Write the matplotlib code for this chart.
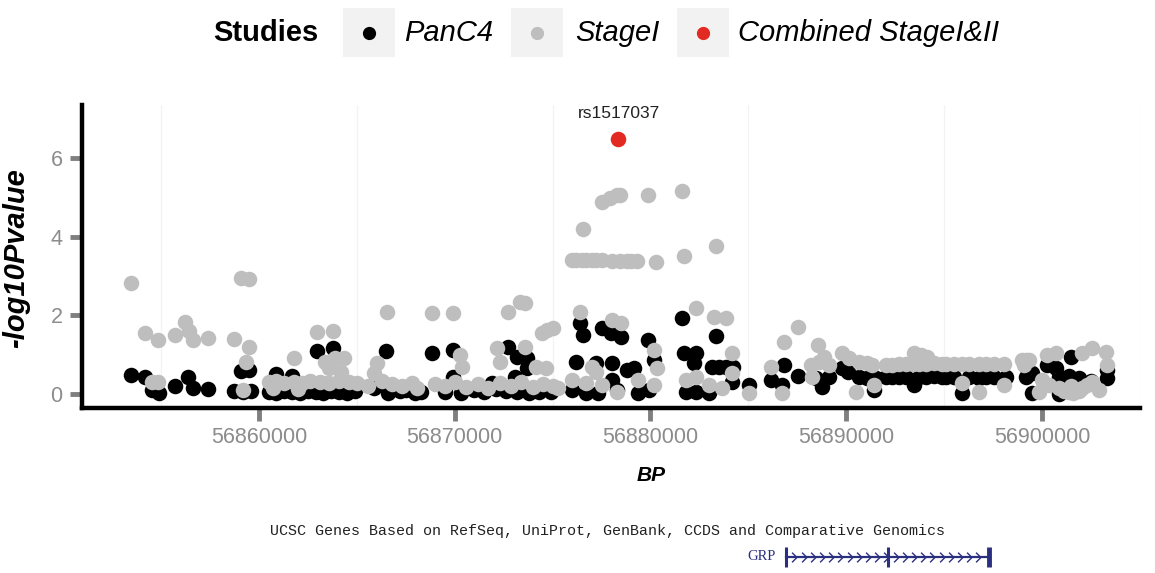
import matplotlib
matplotlib.use("Agg")
import matplotlib.pyplot as plt
import numpy as np
from matplotlib.path import Path
from matplotlib.patches import Rectangle
from matplotlib.lines import Line2D

# ---------------- data ----------------
BP_ORIGIN_KB = 56850.0  # positions below are kb offsets from 56,850,000

panc4_kb = [3.47, 4.18, 4.54, 4.90, 5.71, 6.38, 6.63, 7.40, 8.72, 9.08, 9.49, 9.59, 9.18,
            10.5, 10.9, 11.3, 11.7, 12.1, 12.5, 12.9, 13.3, 13.7, 14.1, 14.5, 14.9, 10.9, 11.7,
            12.96, 13.78, 13.4, 14.3,
            16.48, 15.9, 16.6, 17.2, 17.96, 17.5, 18.3,
            18.83, 19.90, 22.70, 23.16, 23.67, 19.90, 21.89, 23.1, 23.67, 19.5, 20.3, 21.0, 21.5,
            22.1, 22.6, 23.2, 23.8, 24.3, 24.9,
            26.38, 26.53, 27.50, 28.01, 28.52, 29.85, 31.63, 33.37, 31.73, 32.35, 33.16, 33.52,
            33.88, 34.23, 26.22, 27.24, 28.06, 28.78, 29.18, 30.20, 32.24, 29.95, 29.34, 28.27,
            28.06, 26.73, 27.30, 25.97, 31.84, 32.35, 33.01, 34.18,
            35.05, 36.17, 36.84, 36.73, 37.55, 38.47, 39.13, 38.78, 39.80, 40.10, 40.66, 41.07,
            41.53, 41.43, 42.04, 42.35,
            42.70, 43.06, 43.47, 43.72, 44.08, 44.49, 44.90, 45.10, 45.51, 45.92, 46.28, 46.80,
            47.14, 47.55, 48.16,
            49.18, 49.49, 49.49, 50.26, 50.71, 51.48, 50.87, 51.38, 51.89, 52.50, 53.32, 50.87, 53.32]
panc4_p = [0.48, 0.43, 0.10, 0.03, 0.20, 0.43, 0.15, 0.13, 0.08, 0.59, 0.61, 0.08, 0.05,
           0.05, 0.03, 0.08, 0.05, 0.03, 0.08, 0.05, 0.03, 0.08, 0.05, 0.03, 0.08, 0.50, 0.45,
           1.09, 1.17, 0.25, 0.20,
           1.09, 0.15, 0.03, 0.08, 0.03, 0.10, 0.05,
           1.04, 1.12, 1.20, 0.94, 0.92, 0.43, 0.28, 0.43, 0.66, 0.05, 0.03, 0.10, 0.05,
           0.13, 0.08, 0.05, 0.03, 0.05, 0.05,
           1.81, 1.50, 1.68, 1.55, 1.45, 1.37, 1.93, 1.48, 1.04, 1.04, 0.69, 0.69,
           0.69, 0.69, 0.81, 0.79, 0.79, 0.61, 0.66, 0.87, 0.79, 0.10, 0.03, 0.10,
           0.36, 0.03, 0.03, 0.10, 0.05, 0.05, 0.03, 0.31,
           0.23, 0.36, 0.74, 0.23, 0.46, 0.41, 0.43, 0.18, 0.66, 0.56, 0.43, 0.41,
           0.41, 0.10, 0.43, 0.43,
           0.43, 0.43, 0.23, 0.43, 0.43, 0.46, 0.43, 0.43, 0.43, 0.03, 0.43, 0.41,
           0.43, 0.43, 0.43,
           0.43, 0.53, 0.03, 0.74, 0.66, 0.94, 0.43, 0.46, 0.41, 0.33, 0.41, 0.00, 0.60]

stage1_kb = [3.47, 4.18, 4.85, 5.71, 6.22, 6.43, 6.63, 7.40, 8.72, 9.08, 9.49, 9.49, 9.34, 4.54, 4.85, 9.18,
             11.79, 12.96, 13.78, 14.34, 13.4, 13.6, 13.9, 14.2, 10.5, 10.9, 11.3, 11.8, 12.2, 12.6,
             13.1, 13.6, 14.1, 14.6, 15.0, 10.7, 12.0,
             16.53, 16.02, 15.87, 15.6, 16.3, 16.8, 17.3, 17.8, 18.1,
             18.83, 19.90, 22.70, 23.32, 23.57, 24.44, 24.74, 25.00, 20.26, 20.36, 22.14, 23.57,
             22.30, 24.18, 24.69, 19.0, 19.5, 20.0, 20.6, 21.2, 21.7, 22.3, 22.9, 23.4, 24.0,
             24.5, 25.0, 25.3,
             27.55, 27.91, 28.27, 28.42, 29.85, 31.63, 26.53, 25.97, 26.22, 26.48, 26.73, 26.99,
             27.24, 27.50, 28.06, 28.42, 28.78, 29.03, 29.29, 30.26, 31.73, 33.37, 26.38, 28.06,
             28.52, 32.35, 33.27, 33.88, 34.18, 30.20, 30.31, 26.99, 27.24, 30.20, 29.34, 28.27,
             27.50, 26.73, 25.97, 31.84, 32.35, 33.01, 33.67, 34.18,
             35.05, 36.17, 36.84, 36.73, 37.55, 38.57, 38.21, 38.62, 38.88, 39.13, 38.27, 39.80,
             40.15, 40.66, 41.07, 41.33, 42.04, 42.35, 40.51, 41.43,
             42.70, 43.06, 43.40, 43.47, 43.80, 44.10, 43.72, 44.08, 44.49, 44.90, 45.10, 45.51,
             45.92, 46.28, 46.79, 47.14, 47.55, 48.06, 45.92, 46.79, 48.06,
             48.98, 49.18, 49.34, 49.08, 49.85, 50.26, 50.71, 52.04, 52.55, 53.27, 53.32, 52.91,
             50.36, 50.87, 51.12, 51.38, 51.60, 51.89, 52.04, 52.30, 52.55, 51.50, 50.00]
stage1_p = [2.82, 1.55, 1.37, 1.50, 1.83, 1.60, 1.37, 1.42, 1.40, 2.95, 2.93, 1.20, 0.81, 0.31, 0.31, 0.10,
            0.92, 1.58, 1.60, 0.92, 0.81, 0.66, 0.92, 0.56, 0.30, 0.33, 0.28, 0.31, 0.28, 0.33,
            0.30, 0.28, 0.33, 0.30, 0.28, 0.15, 0.12,
            2.09, 0.79, 0.53, 0.20, 0.33, 0.25, 0.20, 0.28, 0.15,
            2.06, 2.06, 2.09, 2.34, 2.32, 1.55, 1.63, 1.68, 0.99, 0.69, 1.17, 1.20,
            0.81, 0.69, 0.66, 0.25, 0.20, 0.30, 0.18, 0.25, 0.15, 0.28, 0.20, 0.30, 0.18,
            0.25, 0.20, 0.15,
            4.89, 4.99, 5.06, 5.06, 5.06, 5.17, 4.20, 3.41, 3.41, 3.41, 3.41, 3.41,
            3.41, 3.41, 3.38, 3.38, 3.38, 3.38, 3.38, 3.36, 3.51, 3.77, 2.09, 1.88,
            1.81, 2.19, 1.96, 1.93, 1.04, 1.12, 0.66, 0.69, 0.56, 0.23, 0.36, 0.05,
            0.23, 0.28, 0.36, 0.36, 0.43, 0.23, 0.15, 0.53,
            0.03, 0.69, 1.32, 0.03, 1.70, 1.25, 0.74, 0.81, 0.94, 0.74, 0.43, 1.04,
            0.92, 0.81, 0.79, 0.74, 0.74, 0.74, 0.05, 0.23,
            0.76, 0.76, 0.76, 1.04, 0.99, 0.94, 0.76, 0.76, 0.79, 0.76, 0.76, 0.76,
            0.76, 0.76, 0.76, 0.76, 0.76, 0.76, 0.28, 0.05, 0.23,
            0.87, 0.87, 0.87, 0.74, 0.05, 0.99, 1.04, 1.04, 1.17, 1.07, 0.74, 0.10,
            0.23, 0.15, 0.08, 0.05, 0.03, 0.08, 0.15, 0.23, 0.31, 0.20, 0.36]

combined_kb = [28.32]
combined_p = [6.49]
combined_label = ["rs1517037"]

studies = ["PanC4", "StageI", "Combined StageI&II"]
study_colors = ["#000000", "#BEBEBE", "#E32A22"]

x_ticks_bp = [56860000, 56870000, 56880000, 56890000, 56900000]
x_minor_bp = [56855000, 56865000, 56875000, 56885000, 56895000, 56905000]
y_ticks = [0, 2, 4, 6]

gene_name = "GRP"
gene_start_bp = 56886900
gene_end_bp = 56897300
gene_exons_bp = [56886900, 56892150, 56897300]
track_title = "UCSC Genes Based on RefSeq, UniProt, GenBank, CCDS and Comparative Genomics"

# ---------------- figure ----------------
W, H = 1155, 573
fig = plt.figure(figsize=(W / 100, H / 100), dpi=100)
plt.rcParams["font.family"] = ["Liberation Sans", "DejaVu Sans"]

def fx(px):
    return px / W

def fy(py):
    return 1 - py / H

ax = fig.add_axes([fx(82), fy(408), (1140 - 82) / W, (408 - 105) / H])

to_bp = lambda kb: (np.asarray(kb) + BP_ORIGIN_KB) * 1000.0

ms = 125
ax.scatter(to_bp(panc4_kb), panc4_p, s=ms, color=study_colors[0], linewidths=0, zorder=3)
ax.scatter(to_bp(stage1_kb), stage1_p, s=ms, color=study_colors[1], linewidths=0, zorder=4)
ax.scatter(to_bp(combined_kb), combined_p, s=ms, color=study_colors[2], linewidths=0, zorder=5)
for kb, p, lab in zip(combined_kb, combined_p, combined_label):
    ax.annotate(lab, (to_bp([kb])[0], p), xytext=(1, 18), textcoords="offset points",
                ha="center", va="center", fontsize=12.5, color="#222222",
                fontstretch="condensed")

ax.set_xlim(56850970, 56904950)
ax.set_ylim(-0.36, 7.35)
ax.set_xticks(x_ticks_bp)
ax.set_xticklabels([str(v) for v in x_ticks_bp])
ax.set_xticks(x_minor_bp, minor=True)
ax.set_yticks(y_ticks)
ax.grid(False)
ax.grid(True, which="minor", axis="x", color="#F3F3F3", linewidth=0.9, zorder=0)
ax.tick_params(axis="both", which="major", length=9, width=3.5, color="#7F7F7F",
               labelcolor="#8C8C8C", labelsize=15.5)
ax.tick_params(axis="x", which="major", pad=5)
ax.tick_params(axis="y", which="major", pad=5)
ax.tick_params(axis="x", which="minor", length=0)
for s in ["top", "right"]:
    ax.spines[s].set_visible(False)
for s in ["left", "bottom"]:
    ax.spines[s].set_linewidth(3.2)
    ax.spines[s].set_color("black")
ax.set_xlabel("BP", fontsize=15, fontweight="bold", fontstyle="italic")
ax.xaxis.set_label_coords((651 - 82) / (1140 - 82), (408 - 466) / (408 - 105))
ax.set_ylabel("-log10Pvalue", fontsize=21, fontweight="bold", fontstyle="italic")
ax.yaxis.set_label_coords((30 - 82) / (1140 - 82), (408 - 258) / (408 - 105))

# ---------------- legend (top) ----------------
fig.text(fx(213), fy(33), "Studies", fontsize=21, fontweight="bold", ha="left", va="center")
key_left = [343, 511, 677]
label_left = [404, 575, 738]
for kl, ll, name, col in zip(key_left, label_left, studies, study_colors):
    fig.patches.append(Rectangle((fx(kl), fy(57)), 52 / W, 49 / H, transform=fig.transFigure,
                                 facecolor="#F2F2F2", edgecolor="none"))
    fig.lines.append(Line2D([fx(kl + 26)], [fy(33)], marker="o", markersize=8.5,
                            color=col, linestyle="none", transform=fig.transFigure))
    fig.text(fx(ll), fy(33), name, fontsize=21, fontstyle="italic", ha="left", va="center")

# ---------------- gene track ----------------
tr = fig.add_axes([fx(82), 0, (1140 - 82) / W, 60 / H])
tr.set_xlim(ax.get_xlim())
tr.set_ylim(60, 0)
tr.axis("off")
fig.text(fx(607), fy(531), track_title, fontsize=10.8, family=["Liberation Mono", "DejaVu Sans Mono"],
         ha="center", va="center", color="#222222")
navy = "#2B2F7F"
gy = 44
tr.plot([gene_start_bp, gene_end_bp], [gy, gy], color=navy, linewidth=1.6)
chev = Path([(-0.5, 1.0), (0.5, 0.0), (-0.5, -1.0)], [Path.MOVETO, Path.LINETO, Path.LINETO])
chev_x = np.arange(gene_start_bp + 450, gene_end_bp - 300, 470)
tr.plot(chev_x, [gy] * len(chev_x), linestyle="none", marker=chev, markersize=7,
        markerfacecolor="none", markeredgecolor=navy, markeredgewidth=1.0)
for i, ex in enumerate(gene_exons_bp):
    tr.plot([ex, ex], [gy - 10, gy + 10], color=navy, linewidth=2.2 if i != 2 else 3.5,
            solid_capstyle="butt")
tr.text(gene_start_bp - 500, gy, gene_name, ha="right", va="center", fontsize=10.5,
        family=["Liberation Serif", "DejaVu Serif"], color=navy)

fig.savefig("out.png", dpi=100, facecolor="white")
